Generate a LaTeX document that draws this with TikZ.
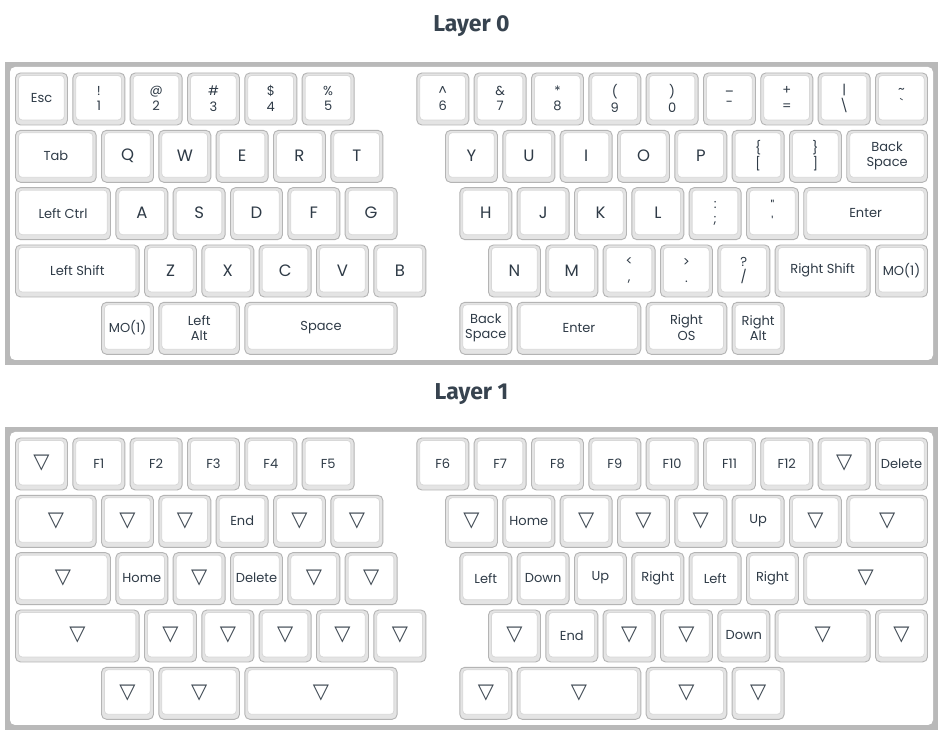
\documentclass[tikz,border=0pt]{standalone}
\usepackage{fontspec}
\newfontfamily\keyfont{Poppins}
\newfontfamily\titlefont{Fira Sans}
\newfontfamily\symfont{DejaVu Sans}
\definecolor{framegray}{HTML}{B9B9B9}
\definecolor{keyedge}{HTML}{B4B4B4}
\definecolor{keyside}{HTML}{E4E4E4}
\definecolor{faceedge}{HTML}{D8D8D8}
\definecolor{keytext}{HTML}{2F3B47}
\definecolor{titlecol}{HTML}{37434F}
\definecolor{tricol}{HTML}{3E4852}
\tikzset{
  keycap/.style={draw=keyedge, fill=keyside, rounded corners=5pt, line width=0.9pt,
    minimum height=52pt, inner sep=0pt, outer sep=0pt},
  keyface/.style={draw=faceedge, fill=white, rounded corners=3.5pt, line width=0.8pt},
  sm/.style={font=\keyfont\fontsize{13}{15.5}\selectfont, text=keytext, align=center, inner sep=0pt},
  big/.style={font=\keyfont\fontsize{16.5}{20}\selectfont, text=keytext, inner sep=0pt},
  tri/.style={font=\symfont\fontsize{21}{22}\selectfont, text=tricol, inner sep=0pt},
  ttl/.style={font=\titlefont\bfseries\fontsize{23}{27}\selectfont, text=titlecol, anchor=base},
  frameouter/.style={fill=framegray},
  frameinner/.style={fill=white, rounded corners=5pt},
}
\def\lyoff{0}
\newcommand\kk[6]{%
  \pgfmathsetmacro\kw{#4*57.33-5.3}%
  \pgfmathsetmacro\kx{15.5+#2*57.33+\kw/2}%
  \pgfmathsetmacro\ky{741-\lyoff-73-#3*57.33-26}%
  \node[keycap, minimum width=\kw pt] (#1) at (\kx pt,\ky pt) {};
  \draw[keyface] ([xshift=3pt,yshift=-2.5pt]#1.north west) rectangle ([xshift=-3.3pt,yshift=5pt]#1.south east);
  \node[#5] (#1t) at ([yshift=0.5pt]#1.center) {#6};
}
\begin{document}
\begin{tikzpicture}[x=1pt,y=1pt]
\useasboundingbox (0,0) rectangle (945,741);
\fill[white] (0,0) rectangle (945,741);
% titles
\node[ttl] (title0) at (471.5,709) {Layer 0};
\node[ttl] (title1) at (471.5,341) {Layer 1};
% frames
\fill[frameouter] (5,679) rectangle (938,376);
\fill[frameinner] (10,674) rectangle (933,381);
\fill[frameouter] (5,314) rectangle (938,11);
\fill[frameinner] (10,309) rectangle (933,16);
% ---------------- Layer 0 ----------------
\def\lyoff{0}
\kk{a-0-0}{0}{0}{1}{sm}{Esc}
\kk{a-0-1}{1}{0}{1}{sm}{!\\1}
\kk{a-0-2}{2}{0}{1}{sm}{@\\2}
\kk{a-0-3}{3}{0}{1}{sm}{\#\\3}
\kk{a-0-4}{4}{0}{1}{sm}{\$\\4}
\kk{a-0-5}{5}{0}{1}{sm}{\%\\5}
\kk{a-0-6}{7}{0}{1}{sm}{\textasciicircum\\6}
\kk{a-0-7}{8}{0}{1}{sm}{\&\\7}
\kk{a-0-8}{9}{0}{1}{sm}{*\\8}
\kk{a-0-9}{10}{0}{1}{sm}{(\\9}
\kk{a-0-10}{11}{0}{1}{sm}{)\\0}
\kk{a-0-11}{12}{0}{1}{sm}{\_\\-}
\kk{a-0-12}{13}{0}{1}{sm}{+\\=}
\kk{a-0-13}{14}{0}{1}{sm}{|\\\textbackslash}
\kk{a-0-14}{15}{0}{1}{sm}{\textasciitilde\\\textasciigrave}
%
\kk{a-1-0}{0}{1}{1.5}{sm}{Tab}
\kk{a-1-1}{1.5}{1}{1}{big}{Q}
\kk{a-1-2}{2.5}{1}{1}{big}{W}
\kk{a-1-3}{3.5}{1}{1}{big}{E}
\kk{a-1-4}{4.5}{1}{1}{big}{R}
\kk{a-1-5}{5.5}{1}{1}{big}{T}
\kk{a-1-6}{7.5}{1}{1}{big}{Y}
\kk{a-1-7}{8.5}{1}{1}{big}{U}
\kk{a-1-8}{9.5}{1}{1}{big}{I}
\kk{a-1-9}{10.5}{1}{1}{big}{O}
\kk{a-1-10}{11.5}{1}{1}{big}{P}
\kk{a-1-11}{12.5}{1}{1}{sm}{\{\\{[}}
\kk{a-1-12}{13.5}{1}{1}{sm}{\}\\{]}}
\kk{a-1-13}{14.5}{1}{1.5}{sm}{Back\\Space}
%
\kk{a-2-0}{0}{2}{1.75}{sm}{Left Ctrl}
\kk{a-2-1}{1.75}{2}{1}{big}{A}
\kk{a-2-2}{2.75}{2}{1}{big}{S}
\kk{a-2-3}{3.75}{2}{1}{big}{D}
\kk{a-2-4}{4.75}{2}{1}{big}{F}
\kk{a-2-5}{5.75}{2}{1}{big}{G}
\kk{a-2-6}{7.75}{2}{1}{big}{H}
\kk{a-2-7}{8.75}{2}{1}{big}{J}
\kk{a-2-8}{9.75}{2}{1}{big}{K}
\kk{a-2-9}{10.75}{2}{1}{big}{L}
\kk{a-2-10}{11.75}{2}{1}{sm}{:\\;}
\kk{a-2-11}{12.75}{2}{1}{sm}{\textquotedbl\\\textquotesingle}
\kk{a-2-12}{13.75}{2}{2.25}{sm}{Enter}
%
\kk{a-3-0}{0}{3}{2.25}{sm}{Left Shift}
\kk{a-3-1}{2.25}{3}{1}{big}{Z}
\kk{a-3-2}{3.25}{3}{1}{big}{X}
\kk{a-3-3}{4.25}{3}{1}{big}{C}
\kk{a-3-4}{5.25}{3}{1}{big}{V}
\kk{a-3-5}{6.25}{3}{1}{big}{B}
\kk{a-3-6}{8.25}{3}{1}{big}{N}
\kk{a-3-7}{9.25}{3}{1}{big}{M}
\kk{a-3-8}{10.25}{3}{1}{sm}{<\\,}
\kk{a-3-9}{11.25}{3}{1}{sm}{>\\.}
\kk{a-3-10}{12.25}{3}{1}{sm}{?\\/}
\kk{a-3-11}{13.25}{3}{1.75}{sm}{Right Shift}
\kk{a-3-12}{15}{3}{1}{sm}{MO(1)}
%
\kk{a-4-0}{1.5}{4}{1}{sm}{MO(1)}
\kk{a-4-1}{2.5}{4}{1.5}{sm}{Left\\Alt}
\kk{a-4-2}{4}{4}{2.75}{sm}{Space}
\kk{a-4-3}{7.75}{4}{1}{sm}{Back\\Space}
\kk{a-4-4}{8.75}{4}{2.25}{sm}{Enter}
\kk{a-4-5}{11}{4}{1.5}{sm}{Right\\OS}
\kk{a-4-6}{12.5}{4}{1}{sm}{Right\\Alt}
% ---------------- Layer 1 ----------------
\def\lyoff{365}
\kk{b-0-0}{0}{0}{1}{tri}{▽}
\kk{b-0-1}{1}{0}{1}{sm}{F1}
\kk{b-0-2}{2}{0}{1}{sm}{F2}
\kk{b-0-3}{3}{0}{1}{sm}{F3}
\kk{b-0-4}{4}{0}{1}{sm}{F4}
\kk{b-0-5}{5}{0}{1}{sm}{F5}
\kk{b-0-6}{7}{0}{1}{sm}{F6}
\kk{b-0-7}{8}{0}{1}{sm}{F7}
\kk{b-0-8}{9}{0}{1}{sm}{F8}
\kk{b-0-9}{10}{0}{1}{sm}{F9}
\kk{b-0-10}{11}{0}{1}{sm}{F10}
\kk{b-0-11}{12}{0}{1}{sm}{F11}
\kk{b-0-12}{13}{0}{1}{sm}{F12}
\kk{b-0-13}{14}{0}{1}{tri}{▽}
\kk{b-0-14}{15}{0}{1}{sm}{Delete}
%
\kk{b-1-0}{0}{1}{1.5}{tri}{▽}
\kk{b-1-1}{1.5}{1}{1}{tri}{▽}
\kk{b-1-2}{2.5}{1}{1}{tri}{▽}
\kk{b-1-3}{3.5}{1}{1}{sm}{End}
\kk{b-1-4}{4.5}{1}{1}{tri}{▽}
\kk{b-1-5}{5.5}{1}{1}{tri}{▽}
\kk{b-1-6}{7.5}{1}{1}{tri}{▽}
\kk{b-1-7}{8.5}{1}{1}{sm}{Home}
\kk{b-1-8}{9.5}{1}{1}{tri}{▽}
\kk{b-1-9}{10.5}{1}{1}{tri}{▽}
\kk{b-1-10}{11.5}{1}{1}{tri}{▽}
\kk{b-1-11}{12.5}{1}{1}{sm}{Up}
\kk{b-1-12}{13.5}{1}{1}{tri}{▽}
\kk{b-1-13}{14.5}{1}{1.5}{tri}{▽}
%
\kk{b-2-0}{0}{2}{1.75}{tri}{▽}
\kk{b-2-1}{1.75}{2}{1}{sm}{Home}
\kk{b-2-2}{2.75}{2}{1}{tri}{▽}
\kk{b-2-3}{3.75}{2}{1}{sm}{Delete}
\kk{b-2-4}{4.75}{2}{1}{tri}{▽}
\kk{b-2-5}{5.75}{2}{1}{tri}{▽}
\kk{b-2-6}{7.75}{2}{1}{sm}{Left}
\kk{b-2-7}{8.75}{2}{1}{sm}{Down}
\kk{b-2-8}{9.75}{2}{1}{sm}{Up}
\kk{b-2-9}{10.75}{2}{1}{sm}{Right}
\kk{b-2-10}{11.75}{2}{1}{sm}{Left}
\kk{b-2-11}{12.75}{2}{1}{sm}{Right}
\kk{b-2-12}{13.75}{2}{2.25}{tri}{▽}
%
\kk{b-3-0}{0}{3}{2.25}{tri}{▽}
\kk{b-3-1}{2.25}{3}{1}{tri}{▽}
\kk{b-3-2}{3.25}{3}{1}{tri}{▽}
\kk{b-3-3}{4.25}{3}{1}{tri}{▽}
\kk{b-3-4}{5.25}{3}{1}{tri}{▽}
\kk{b-3-5}{6.25}{3}{1}{tri}{▽}
\kk{b-3-6}{8.25}{3}{1}{tri}{▽}
\kk{b-3-7}{9.25}{3}{1}{sm}{End}
\kk{b-3-8}{10.25}{3}{1}{tri}{▽}
\kk{b-3-9}{11.25}{3}{1}{tri}{▽}
\kk{b-3-10}{12.25}{3}{1}{sm}{Down}
\kk{b-3-11}{13.25}{3}{1.75}{tri}{▽}
\kk{b-3-12}{15}{3}{1}{tri}{▽}
%
\kk{b-4-0}{1.5}{4}{1}{tri}{▽}
\kk{b-4-1}{2.5}{4}{1.5}{tri}{▽}
\kk{b-4-2}{4}{4}{2.75}{tri}{▽}
\kk{b-4-3}{7.75}{4}{1}{tri}{▽}
\kk{b-4-4}{8.75}{4}{2.25}{tri}{▽}
\kk{b-4-5}{11}{4}{1.5}{tri}{▽}
\kk{b-4-6}{12.5}{4}{1}{tri}{▽}
\end{tikzpicture}
\end{document}
